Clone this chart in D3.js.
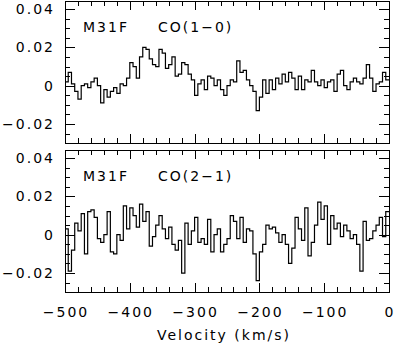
<!DOCTYPE html>
<html>
<head>
<meta charset="utf-8">
<script src="https://cdn.jsdelivr.net/npm/d3@7"></script>
<style>
  body { margin: 0; background: #fff; }
  text { font-family: "DejaVu Sans", sans-serif; font-size: 14px; letter-spacing: 2px; fill: #000; }
</style>
</head>
<body>
<script>
// channel layout (km/s)
var vStart = -500
var chanWidth = 5

// CO(1-0) spectrum, K
var co10 = [2, 7, 1, -3, -7, 0, 1, -1, 2, 4,
	0, -9, -2, -6, -3, -1, -4, 1, 0, 4,
	12, 10, 4, 15, 20, 19, 14, 11, 10, 19,
	17, 9, 11, 15, 5, 6, 12, 11, 6, 3,
	-5, 1, 3, -2, 5, 4, 0, 3, -2, -5,
	0, 3, 2, 13, 7, 8, 3, 0, -3, -13,
	-6, 3, -4, 3, -2, 4, 1, 6, 2, 7,
	4, -2, 5, -2, 3, 2, 8, 2, 0, 3,
	-1, 2, 3, -3, 6, 8, 0, -2, 2, 4,
	2, 1, 4, 11, 4, -3, 1, 2, 7, 3].map(function(d) { return d / 1000 })

// CO(2-1) spectrum, K
var co21 = [3, -19, -8, 6, 2, 11, -10, 12, 13, 9,
	-2, -4, 0, 12, -9, -10, 0, -3, 15, 3,
	14, 10, 4, 16, 7, 12, -6, -1, 5, 10,
	3, -2, 4, -5, -8, -3, -20, 6, -5, 2,
	9, -4, -2, -5, 8, -9, 0, 3, -9, -5,
	-2, 10, 7, -2, 9, -4, 3, 2, -10, -24,
	-9, -5, 5, 3, 4, 1, -4, 0, -5, -15,
	-7, 9, 3, -3, 14, -11, -4, 5, 17, 8,
	15, -5, 10, 3, 6, -1, 5, 2, -2, 0,
	-5, -19, 7, -3, -2, 2, 5, 9, -1, 12].map(function(d) { return d / 1000 })

var spectra = [co10, co21]
var lineNames = ['CO(1\u22120)', 'CO(2\u22121)']
var sourceName = 'M31F'

var xTicks = [-500, -400, -300, -200, -100, 0]
var xMinor = d3.range(-480, 0, 20)
var yTicks = [-0.02, 0, 0.02, 0.04]
var yMinor = d3.range(-0.025, 0.0445, 0.005)

var width = 396
var height = 343
var left = 65, right = 389
var panels = [{top: 1, bottom: 143}, {top: 150, bottom: 292}]

var svg = d3.select('body').append('svg')
	.attr('width', width)
	.attr('height', height)

var x = d3.scaleLinear()
	.domain([-500, 0])
	.range([left, right])

var fmtY = function(d) { return Math.abs(d) < 1e-9 ? '0' : d3.format('.2f')(d) }

panels.forEach(function(p, k) {

	var y = d3.scaleLinear()
		.domain([-0.0299, 0.0442])
		.range([p.bottom, p.top])

	var g = svg.append('g')

	// spectrum as a histogram
	var pts = spectra[k].map(function(v, i) { return [vStart + i * chanWidth, v] })
	pts.push([vStart + spectra[k].length * chanWidth, spectra[k][spectra[k].length - 1]])

	var line = d3.line()
		.x(function(d) { return x(d[0]) })
		.y(function(d) { return y(d[1]) })
		.curve(d3.curveStepAfter)

	g.append('path')
		.attr('d', line(pts))
		.attr('fill', 'none')
		.attr('stroke', '#000')
		.attr('stroke-width', 1.2)

	// frame
	g.append('rect')
		.attr('x', left + 0.5)
		.attr('y', p.top + 0.5)
		.attr('width', right - left)
		.attr('height', p.bottom - p.top)
		.attr('fill', 'none')
		.attr('stroke', '#000')
		.attr('stroke-width', 1)

	// ticks inside on all sides
	var tk = g.append('g').attr('stroke', '#000').attr('stroke-width', 1)
	function xTick(v, len) {
		var xx = Math.round(x(v)) + 0.5
		tk.append('line').attr('x1', xx).attr('x2', xx).attr('y1', p.bottom).attr('y2', p.bottom - len)
		tk.append('line').attr('x1', xx).attr('x2', xx).attr('y1', p.top).attr('y2', p.top + len)
	}
	function yTick(v, len) {
		var yy = Math.round(y(v)) + 0.5
		tk.append('line').attr('x1', left).attr('x2', left + len).attr('y1', yy).attr('y2', yy)
		tk.append('line').attr('x1', right).attr('x2', right - len).attr('y1', yy).attr('y2', yy)
	}
	xMinor.forEach(function(v) { if (xTicks.indexOf(v) < 0) xTick(v, 5) })
	xTicks.forEach(function(v) { xTick(v, 9) })
	yMinor.forEach(function(v) { yTick(v, 5) })
	yTicks.forEach(function(v) { yTick(v, 10) })

	// y labels
	g.selectAll('text.ylab')
		.data(yTicks)
		.enter().append('text')
			.attr('class', 'ylab')
			.attr('x', 55)
			.attr('y', function(d) { return y(d) + 5 })
			.attr('text-anchor', 'end')
			.text(fmtY)

	// panel label
	g.append('text')
		.attr('x', 83)
		.attr('y', p.top + 31)
		.text(sourceName)
	g.append('text')
		.attr('x', 158)
		.attr('y', p.top + 31)
		.text(lineNames[k])
})

// x labels under the lower panel
svg.selectAll('text.xlab')
	.data(xTicks)
	.enter().append('text')
		.attr('class', 'xlab')
		.attr('x', function(d) { return x(d) + 1 })
		.attr('y', 317)
		.attr('text-anchor', 'middle')
		.text(function(d) { return d === 0 ? '0' : d3.format('d')(d) })

svg.append('text')
	.attr('x', 224)
	.attr('y', 340)
	.attr('text-anchor', 'middle')
	.text('Velocity (km/s)')
</script>
</body>
</html>
